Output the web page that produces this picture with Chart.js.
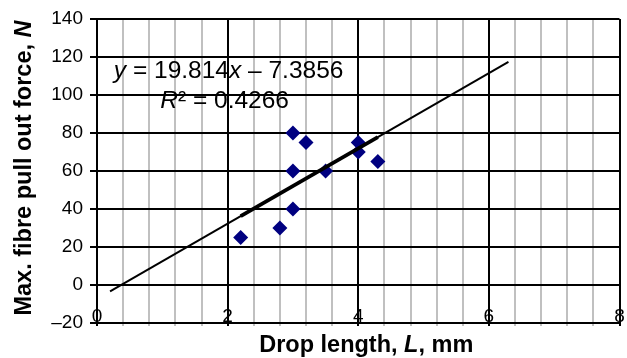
<!DOCTYPE html>
<html><head><meta charset="utf-8">
<script src="https://cdn.jsdelivr.net/npm/chart.js@4/dist/chart.umd.min.js"></script>
<style>html,body{margin:0;padding:0;background:#fff;}</style>
</head><body>
<canvas id="c" width="627" height="358"></canvas>
<script>
// ---- data ----
const dropLength   = [2.2, 2.8, 3.0, 3.0, 3.0, 3.2, 3.5, 4.0, 4.0, 4.3];
const pullOutForce = [25, 30, 40, 60, 80, 75, 60, 75, 70, 65];
const trendLineX   = [0.2, 6.3];
const trendLineY   = [-3.4, 117.4];
const fitRangeX    = [2.2, 4.3];
const fitRangeY    = [36.2, 77.8];
const xTickValues  = [0, 2, 4, 6, 8];
const xTickLabels  = ['0', '2', '4', '6', '8'];
const yTickValues  = [-20, 0, 20, 40, 60, 80, 100, 120, 140];
const yTickLabels  = ['\u201320', '0', '20', '40', '60', '80', '100', '120', '140'];
const xTitleParts  = [['Drop length, ', false], ['L', true], [', mm', false]];
const yTitleParts  = [['Max. fibre pull out force, ', false], ['N', true]];
const eqLine1      = [['y', true], [' = 19.814', false], ['x', true], [' \u2013 7.3856', false]];
const eqLine2      = [['R', true], ['\u00B2 = 0.4266', false]];

const FAM = 'Arial, "Liberation Sans", sans-serif';

function near(v, arr){ return arr.findIndex(a => Math.abs(a - v) < 1e-6); }

function drawParts(ctx, parts, size, bold, cx, cy){
  const w = parts.map(p => { ctx.font = (p[1] ? 'italic ' : '') + (bold ? 'bold ' : '') + size + 'px ' + FAM; return ctx.measureText(p[0]).width; });
  const total = w.reduce((a,b)=>a+b,0);
  let x = cx - total/2;
  ctx.textAlign = 'left';
  ctx.textBaseline = 'alphabetic';
  parts.forEach((p,i) => {
    ctx.font = (p[1] ? 'italic ' : '') + (bold ? 'bold ' : '') + size + 'px ' + FAM;
    ctx.fillText(p[0], x, cy);
    x += w[i];
  });
}

const textPlugin = {
  id: 'texts',
  afterDatasetsDraw(chart){
    const ctx = chart.ctx;
    const xs = chart.scales.x, ys = chart.scales.y;
    ctx.save();
    ctx.fillStyle = '#000';
    drawParts(ctx, eqLine1, 24.5, false, xs.getPixelForValue(2) + 1, ys.getPixelForValue(109));
    drawParts(ctx, eqLine2, 24.5, false, xs.getPixelForValue(2) - 3, ys.getPixelForValue(93.3));
    ctx.restore();
  },
  afterDraw(chart){
    const ctx = chart.ctx, ca = chart.chartArea;
    ctx.save();
    ctx.fillStyle = '#000';
    drawParts(ctx, xTitleParts, 23.5, true, (ca.left + ca.right)/2 + 8, 352);
    ctx.translate(31, (ca.top + ca.bottom)/2 - 3);
    ctx.rotate(-Math.PI/2);
    drawParts(ctx, yTitleParts, 23.5, true, 0, 0);
    ctx.restore();
  }
};

const isMajorX = v => near(v, xTickValues) >= 0;

new Chart(document.getElementById('c'), {
  type: 'scatter',
  data: {
    datasets: [
      { data: trendLineX.map((x,i)=>({x, y: trendLineY[i]})), showLine: true, borderColor: '#000', borderWidth: 2, pointRadius: 0, fill: false },
      { data: fitRangeX.map((x,i)=>({x, y: fitRangeY[i]})), showLine: true, borderColor: '#000', borderWidth: 3.8, pointRadius: 0, fill: false },
      { data: dropLength.map((x,i)=>({x, y: pullOutForce[i]})), pointStyle: 'rectRot', pointRadius: 7.5, backgroundColor: '#000080', borderColor: '#000080', borderWidth: 0 }
    ]
  },
  options: {
    responsive: false, animation: false, devicePixelRatio: 1,
    layout: { padding: { left: 37, right: 5, top: 19, bottom: 30 } },
    plugins: { legend: { display: false }, tooltip: { enabled: false } },
    scales: {
      x: {
        type: 'linear', min: 0, max: 8,
        afterFit(s){ s.height = 5; },
        ticks: {
          stepSize: 0.4, autoSkip: false, maxRotation: 0, mirror: true, padding: -5,
          color: '#000', font: { family: FAM, size: 19 },
          callback(v){ const i = near(v, xTickValues); return i >= 0 ? xTickLabels[i] : ''; }
        },
        grid: {
          color: c => isMajorX(c.tick.value) ? '#000' : '#c0c0c0',
          tickColor: c => isMajorX(c.tick.value) ? '#000' : '#c0c0c0',
          lineWidth: 2, tickLength: 3
        },
        border: { display: true, color: '#000', width: 2 }
      },
      y: {
        type: 'linear', min: -20, max: 140,
        afterFit(s){ s.width = 60; },
        ticks: {
          stepSize: 20, padding: 7, color: '#000', font: { family: FAM, size: 19 },
          callback(v){ const i = near(v, yTickValues); return i >= 0 ? yTickLabels[i] : ''; }
        },
        grid: { color: '#000', tickColor: '#000', lineWidth: 2, tickLength: 7 },
        border: { display: true, color: '#000', width: 2 }
      }
    }
  },
  plugins: [textPlugin]
});
</script>
</body></html>
